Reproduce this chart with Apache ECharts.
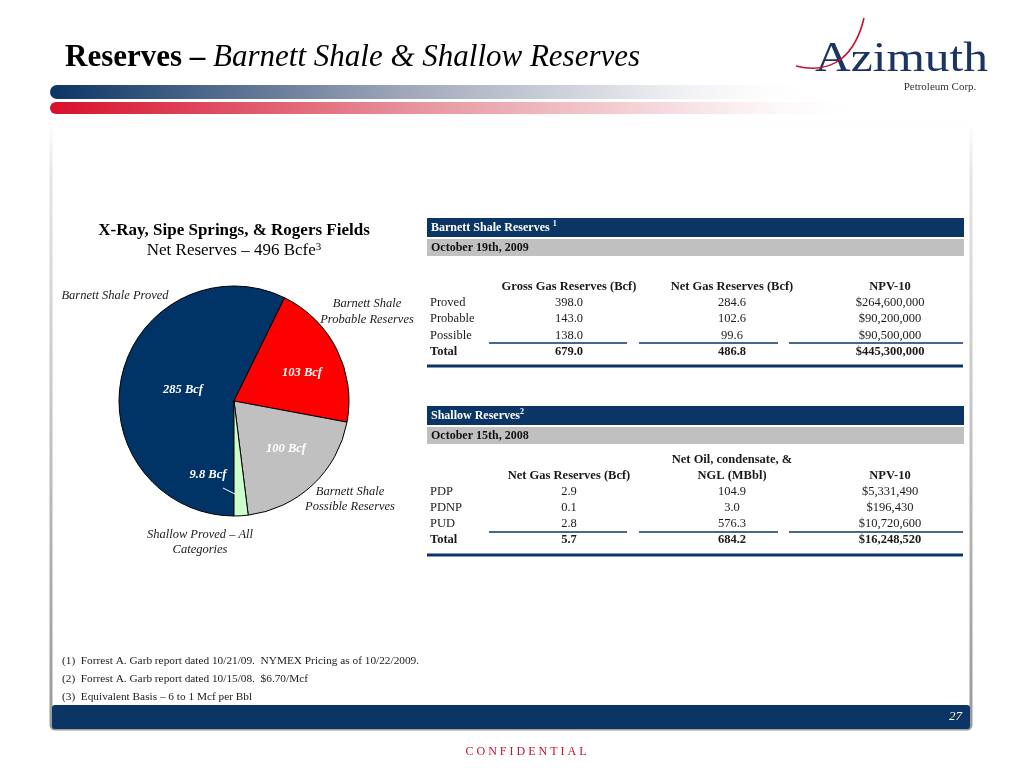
<!DOCTYPE html>
<html>
<head>
<meta charset="utf-8">
<script src="https://cdn.jsdelivr.net/npm/echarts@6/dist/echarts.min.js"></script>
<style>
html,body{margin:0;padding:0;background:#fff;}
#c{width:1024px;height:768px;}
</style>
</head>
<body>
<div id="c"></div>
<script>
// ---------- DATA ----------
const pieNames = ['Barnett Shale Proved', 'Barnett Shale Probable Reserves', 'Barnett Shale Possible Reserves', 'Shallow Proved – All Categories'];
const pieValues = [285, 103, 100, 9.8];

const barnettRows = ['Proved', 'Probable', 'Possible'];
const barnettGross = [398.0, 143.0, 138.0];
const barnettNet = [284.6, 102.6, 99.6];
const barnettNpv = [264600000, 90200000, 90500000];
const barnettTotals = [679.0, 486.8, 445300000];

const shallowRows = ['PDP', 'PDNP', 'PUD'];
const shallowGas = [2.9, 0.1, 2.8];
const shallowOil = [104.9, 3.0, 576.3];
const shallowNpv = [5331490, 196430, 10720600];
const shallowTotals = [5.7, 684.2, 16248520];

const footnotes = [
  '(1)  Forrest A. Garb report dated 10/21/09.  NYMEX Pricing as of 10/22/2009.',
  '(2)  Forrest A. Garb report dated 10/15/08.  $6.70/Mcf',
  '(3)  Equivalent Basis – 6 to 1 Mcf per Bbl'
];

// ---------- HELPERS ----------
const SERIF = '"Liberation Serif", "Times New Roman", serif';
const NAVY = '#0b3565';
const fmt1 = v => v.toFixed(1);
const money = v => '$' + v.toLocaleString('en-US');
function txt(text, x, y, opt) {
  opt = opt || {};
  return {
    type: 'text', z: 10, silent: true,
    style: {
      text: text, x: x, y: y,
      font: (opt.style || '') + ' ' + (opt.weight || 'normal') + ' ' + (opt.size || 12.5) + 'px ' + SERIF,
      fill: opt.fill || '#1a1a1a',
      textAlign: opt.align || 'left',
      textVerticalAlign: 'middle'
    }
  };
}
function line(x1, y1, x2, y2, w, c) {
  return { type: 'line', z: 9, silent: true, shape: { x1: x1, y1: y1, x2: x2, y2: y2 }, style: { stroke: c || NAVY, lineWidth: w } };
}

const g = [];

// Title
g.push({
  type: 'text', z: 10,
  style: {
    x: 65, y: 58, textVerticalAlign: 'middle',
    text: '{a|Reserves – }{b|Barnett Shale & Shallow Reserves}',
    rich: {
      a: { font: 'bold 31px ' + SERIF, fill: '#000' },
      b: { font: 'italic 31px ' + SERIF, fill: '#000' }
    }
  }
});
// gradient bars
g.push({ type: 'rect', shape: { x: 50, y: 85, width: 780, height: 14, r: [7, 0, 0, 7] },
  style: { fill: new echarts.graphic.LinearGradient(0, 0, 1, 0, [
    { offset: 0, color: '#0b3565' }, { offset: 0.45, color: '#9ea6b8' }, { offset: 0.8, color: '#eeeff2' }, { offset: 1, color: 'rgba(255,255,255,0)' }]) } });
g.push({ type: 'rect', shape: { x: 50, y: 102, width: 820, height: 12, r: [6, 0, 0, 6] },
  style: { fill: new echarts.graphic.LinearGradient(0, 0, 1, 0, [
    { offset: 0, color: '#d8102c' }, { offset: 0.45, color: '#e7959f' }, { offset: 0.8, color: '#f8e6e8' }, { offset: 1, color: 'rgba(255,255,255,0)' }]) } });

// Logo
g.push({ type: 'bezierCurve', z: 11, shape: { x1: 796, y1: 66, cpx1: 835, cpy1: 76, cpx2: 856, cpy2: 52, x2: 864, y2: 18 },
  style: { stroke: '#c8102e', lineWidth: 1.6, fill: null } });
g.push({ type: 'text', z: 10, x: 815, scaleX: 1.15, style: { x: 0, y: 60, text: 'Azimuth', font: '43px ' + SERIF, fill: '#1c3461', textVerticalAlign: 'middle' } });
g.push(txt('Petroleum Corp.', 940, 87, { size: 11, align: 'center', fill: '#333' }));

// panel border
g.push({ type: 'rect', z: 1, shape: { x: 51, y: 125, width: 920, height: 604, r: 4 },
  style: { fill: 'none', lineWidth: 3, stroke: new echarts.graphic.LinearGradient(0, 0, 0, 1, [
    { offset: 0, color: '#ffffff' }, { offset: 0.08, color: '#e6e6e6' }, { offset: 1, color: '#999999' }]) } });
// bottom bar
g.push({ type: 'rect', z: 2, shape: { x: 52, y: 705, width: 918, height: 24, r: 3 }, style: { fill: NAVY } });
g.push(txt('27', 962, 717, { size: 13, style: 'italic', align: 'right', fill: '#fff' }));
// confidential
g.push({ type: 'text', z: 10, style: { x: 526, y: 752, text: 'C O N F I D E N T I A L', font: '12px ' + SERIF, fill: '#c8102e', textAlign: 'center', textVerticalAlign: 'middle' } });

// footnotes
footnotes.forEach((f, i) => g.push(txt(f, 62, 661 + i * 18, { size: 11.3 })));

// Pie titles
g.push(txt('X-Ray, Sipe Springs, & Rogers Fields', 234, 231, { size: 17, weight: 'bold', align: 'center', fill: '#000' }));
g.push({
  type: 'text', z: 10,
  style: { x: 234, y: 251, textAlign: 'center', textVerticalAlign: 'middle',
    text: '{a|Net Reserves – 496 Bcfe}{s|3}',
    rich: { a: { font: '17px ' + SERIF, fill: '#000' }, s: { font: '11px ' + SERIF, fill: '#000', verticalAlign: 'top', padding: [0, 0, 8, 0] } } }
});

// Pie labels
const inLab = [[183, 390], [302, 373], [286, 449], [208, 475]];
pieValues.forEach((v, i) => g.push(txt(v + ' Bcf', inLab[i][0], inLab[i][1], { size: 12.5, weight: 'bold', style: 'italic', align: 'center', fill: '#fff' })));
g.push(line(223, 488, 237, 495, 1, '#fff'));
g.push(txt('Barnett Shale Proved', 115, 296, { style: 'italic', align: 'center' }));
g.push(txt('Barnett Shale', 367, 304, { style: 'italic', align: 'center' }));
g.push(txt('Probable Reserves', 367, 320, { style: 'italic', align: 'center' }));
g.push(txt('Barnett Shale', 350, 492, { style: 'italic', align: 'center' }));
g.push(txt('Possible Reserves', 350, 507, { style: 'italic', align: 'center' }));
g.push(txt('Shallow Proved – All', 200, 535, { style: 'italic', align: 'center' }));
g.push(txt('Categories', 200, 550, { style: 'italic', align: 'center' }));

// Tables
const colX = [569, 732, 890];
function header(y, title, sup, date) {
  g.push({ type: 'rect', z: 3, shape: { x: 427, y: y, width: 537, height: 19 }, style: { fill: NAVY } });
  g.push({ type: 'text', z: 10, style: { x: 431, y: y + 10, textVerticalAlign: 'middle', text: '{a|' + title + '}{s|' + sup + '}',
    rich: { a: { font: 'bold 12px ' + SERIF, fill: '#fff' }, s: { font: 'bold 8px ' + SERIF, fill: '#fff', verticalAlign: 'top', padding: [0, 0, 8, 0] } } } });
  g.push({ type: 'rect', z: 3, shape: { x: 427, y: y + 21, width: 537, height: 17 }, style: { fill: '#c0c0c0' } });
  g.push(txt(date, 431, y + 30, { weight: 'bold', size: 12, fill: '#111' }));
}
function body(rowY, labels, cols, totals, lineY, thickY) {
  labels.forEach((l, r) => {
    g.push(txt(l, 430, rowY[r]));
    cols.forEach((c, k) => g.push(txt(c[r], colX[k], rowY[r], { align: 'center' })));
  });
  g.push(txt('Total', 430, rowY[3], { weight: 'bold' }));
  totals.forEach((t, k) => g.push(txt(t, colX[k], rowY[3], { align: 'center', weight: 'bold' })));
  [[489, 627], [639, 778], [789, 963]].forEach(s => g.push(line(s[0], lineY, s[1], lineY, 1.5)));
  g.push(line(427, thickY, 963, thickY, 3));
}
header(218, 'Barnett Shale Reserves ', '1', 'October 19th, 2009');
['Gross Gas Reserves (Bcf)', 'Net Gas Reserves (Bcf)', 'NPV-10'].forEach((h, k) => g.push(txt(h, colX[k], 287, { align: 'center', weight: 'bold' })));
body([303, 319, 336, 352], barnettRows,
  [barnettGross.map(fmt1), barnettNet.map(fmt1), barnettNpv.map(money)],
  [fmt1(barnettTotals[0]), fmt1(barnettTotals[1]), money(barnettTotals[2])], 343, 366);

header(406, 'Shallow Reserves', '2', 'October 15th, 2008');
g.push(txt('Net Oil, condensate, &', colX[1], 460, { align: 'center', weight: 'bold' }));
['Net Gas Reserves (Bcf)', 'NGL (MBbl)', 'NPV-10'].forEach((h, k) => g.push(txt(h, colX[k], 476, { align: 'center', weight: 'bold' })));
body([492, 508, 524, 540], shallowRows,
  [shallowGas.map(fmt1), shallowOil.map(fmt1), shallowNpv.map(money)],
  [fmt1(shallowTotals[0]), fmt1(shallowTotals[1]), money(shallowTotals[2])], 532, 555);

const chart = echarts.init(document.getElementById('c'), null, { renderer: 'canvas' });
chart.setOption({
  animation: false,
  backgroundColor: '#fff',
  graphic: g,
  series: [{
    type: 'pie',
    center: [234, 401],
    radius: 115,
    startAngle: -90,
    clockwise: true,
    label: { show: false },
    labelLine: { show: false },
    itemStyle: { borderColor: '#000', borderWidth: 1 },
    emphasis: { disabled: true },
    data: pieValues.map((v, i) => ({ name: pieNames[i], value: v,
      itemStyle: { color: ['#003366', '#ff0000', '#c0c0c0', '#ccffcc'][i] } }))
  }]
});
</script>
</body>
</html>
